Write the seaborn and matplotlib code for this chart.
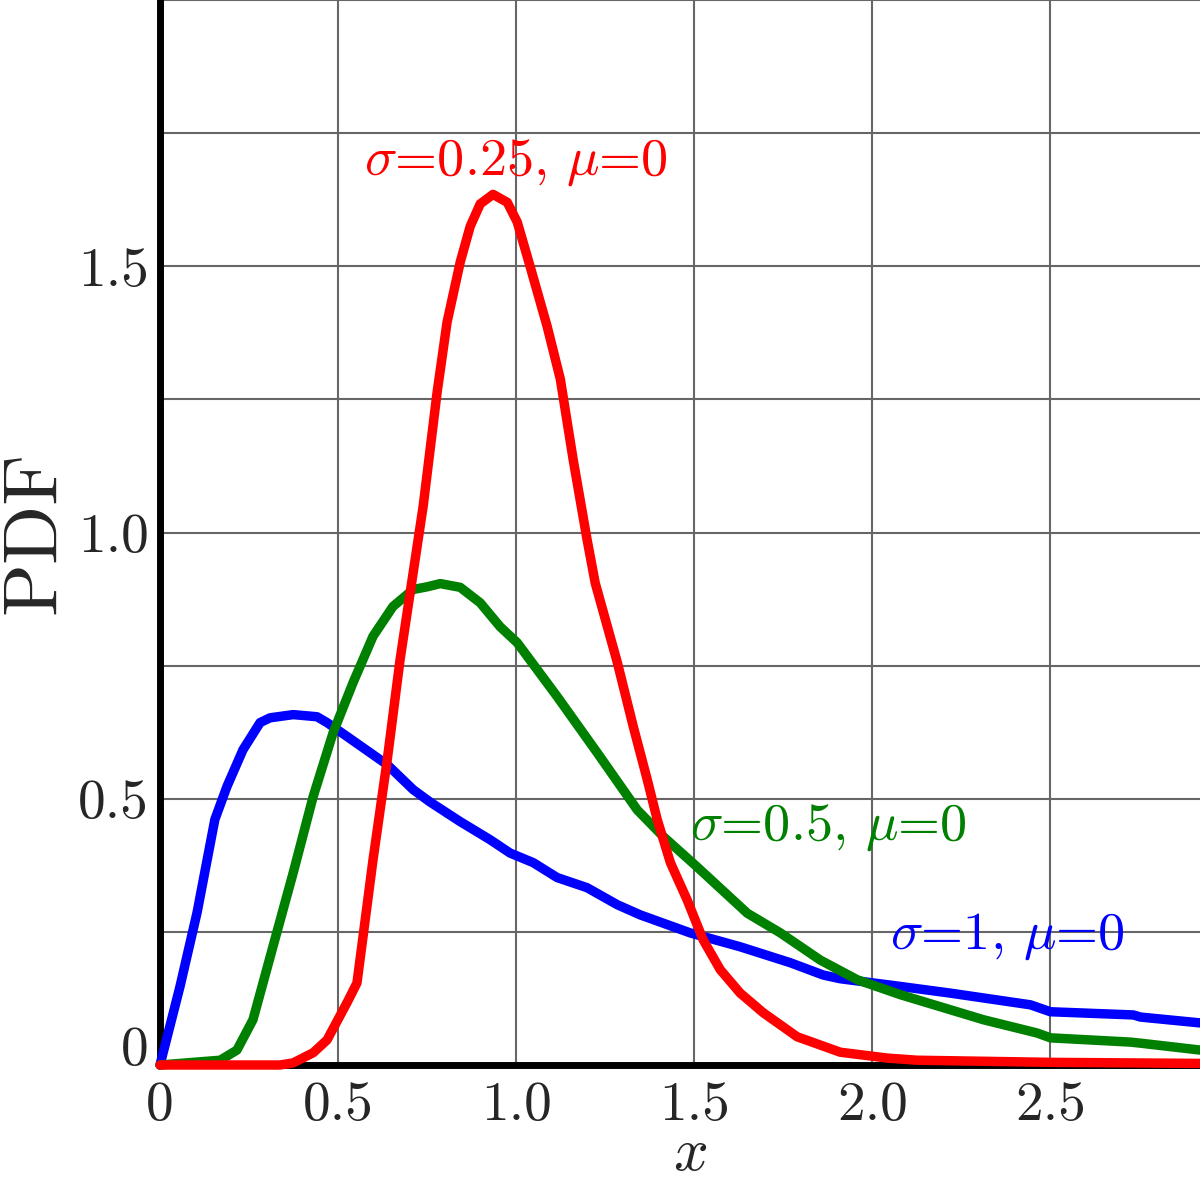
import matplotlib
matplotlib.use("Agg")
import matplotlib.pyplot as plt
import pandas as pd
import seaborn as sns

# curva sigma=1, mu=0 (azul)
x_s1 = [0, 0.056, 0.104, 0.154, 0.188, 0.233, 0.281, 0.309, 0.374, 0.441, 0.469, 0.525,
        0.638, 0.711, 0.758, 0.843, 0.927, 0.983, 1.048, 1.115, 1.199, 1.284, 1.348, 1.489,
        1.629, 1.77, 1.862, 1.91, 2.051, 2.219, 2.444, 2.5, 2.733, 2.753, 2.921]
y_s1 = [0, 0.147, 0.286, 0.461, 0.523, 0.592, 0.643, 0.652, 0.658, 0.654, 0.643, 0.617,
        0.564, 0.517, 0.494, 0.457, 0.423, 0.398, 0.380, 0.352, 0.333, 0.301, 0.282, 0.248,
        0.222, 0.192, 0.169, 0.162, 0.150, 0.135, 0.113, 0.100, 0.094, 0.090, 0.079]

# curva sigma=0.5, mu=0 (verde)
x_s05 = [0, 0.169, 0.216, 0.261, 0.317, 0.374, 0.430, 0.486, 0.542, 0.598, 0.654, 0.711,
         0.75, 0.787, 0.843, 0.899, 0.955, 1.003, 1.115, 1.228, 1.34, 1.413, 1.508, 1.649,
         1.742, 1.854, 1.958, 2.079, 2.312, 2.463, 2.5, 2.725, 2.753, 2.921]
y_s05 = [0, 0.009, 0.028, 0.085, 0.222, 0.361, 0.504, 0.624, 0.718, 0.805, 0.861, 0.893,
         0.898, 0.904, 0.897, 0.868, 0.823, 0.793, 0.692, 0.586, 0.479, 0.429, 0.372, 0.285,
         0.248, 0.197, 0.16, 0.132, 0.085, 0.06, 0.051, 0.043, 0.041, 0.028]

# curva sigma=0.25, mu=0 (rojo)
x_s025 = [0, 0.337, 0.374, 0.43, 0.469, 0.525, 0.553, 0.570, 0.598, 0.638, 0.674, 0.739,
          0.778, 0.806, 0.843, 0.871, 0.899, 0.935, 0.975, 1.003, 1.039, 1.087, 1.124, 1.16,
          1.199, 1.222, 1.284, 1.329, 1.368, 1.396, 1.433, 1.48, 1.525, 1.573, 1.629, 1.694,
          1.789, 1.91, 2.042, 2.126, 2.5, 2.921]
y_s025 = [0, 0, 0.004, 0.023, 0.047, 0.117, 0.154, 0.241, 0.385, 0.573, 0.761, 1.05,
          1.263, 1.395, 1.508, 1.575, 1.617, 1.635, 1.620, 1.583, 1.5, 1.387, 1.288, 1.137,
          0.987, 0.905, 0.756, 0.635, 0.536, 0.461, 0.38, 0.31, 0.235, 0.179, 0.135, 0.098,
          0.053, 0.024, 0.013, 0.009, 0.005, 0.003]

xticks = [0, 0.5, 1.0, 1.5, 2.0, 2.5]
xtick_labels = ["0", "0.5", "1.0", "1.5", "2.0", "2.5"]
yticks = [0, 0.5, 1.0, 1.5]
ytick_labels = ["0", "0.5", "1.0", "1.5"]

sns.set_style("white")
plt.rcParams["font.family"] = ["cmr10", "DejaVu Serif"]
plt.rcParams["mathtext.fontset"] = "cm"
plt.rcParams["axes.formatter.use_mathtext"] = True

fig = plt.figure(figsize=(12, 12), dpi=100)
ax = fig.add_axes([160 / 1200, 1 - 1065 / 1200, 1040 / 1200, 1065 / 1200])

series = [
    (x_s1, y_s1, "#0000ff"),
    (x_s05, y_s05, "#008000"),
    (x_s025, y_s025, "#ff0000"),
]
for xs, ys, col in series:
    df = pd.DataFrame({"x": xs, "y": ys})
    sns.lineplot(data=df, x="x", y="y", color=col, lw=6.8, sort=False,
                 ax=ax, zorder=5, clip_on=False, solid_joinstyle="round")

ax.set_xlim(0, 2.92)
ax.set_ylim(0, 2.0)

ax.set_xticks(xticks)
ax.set_xticklabels(xtick_labels)
ax.set_yticks(yticks)
ax.set_yticklabels(ytick_labels)
ax.set_yticks([0.25, 0.75, 1.25, 1.75, 2.0], minor=True)
ax.tick_params(axis="both", which="both", length=0, labelsize=40)
ax.tick_params(axis="x", pad=12)
ax.tick_params(axis="y", pad=8)
ax.get_yticklabels()[0].set_va("baseline")
ax.grid(True, which="both", color="#666666", lw=1.5)
ax.set_axisbelow(True)

for side in ["top", "right"]:
    ax.spines[side].set_visible(False)
for side in ["left", "bottom"]:
    ax.spines[side].set_linewidth(5)
    ax.spines[side].set_color("black")
    ax.spines[side].set_zorder(4)

ax.set_xlabel(r"$x$", fontsize=44)
ax.xaxis.set_label_coords(0.51, -0.058)
ax.set_ylabel("PDF", fontsize=56)
ax.yaxis.set_label_coords(-0.086, 0.5)

ax.text(1.0, 1.695, r"$\sigma$=0.25, $\mu$=0", color="#ff0000", fontsize=39,
        ha="center", va="center")
ax.text(1.489, 0.445, r"$\sigma$=0.5, $\mu$=0", color="#008000", fontsize=39,
        ha="left", va="center")
ax.text(2.05, 0.24, r"$\sigma$=1, $\mu$=0", color="#0000ff", fontsize=39,
        ha="left", va="center")

fig.savefig("out.png", dpi=100)
